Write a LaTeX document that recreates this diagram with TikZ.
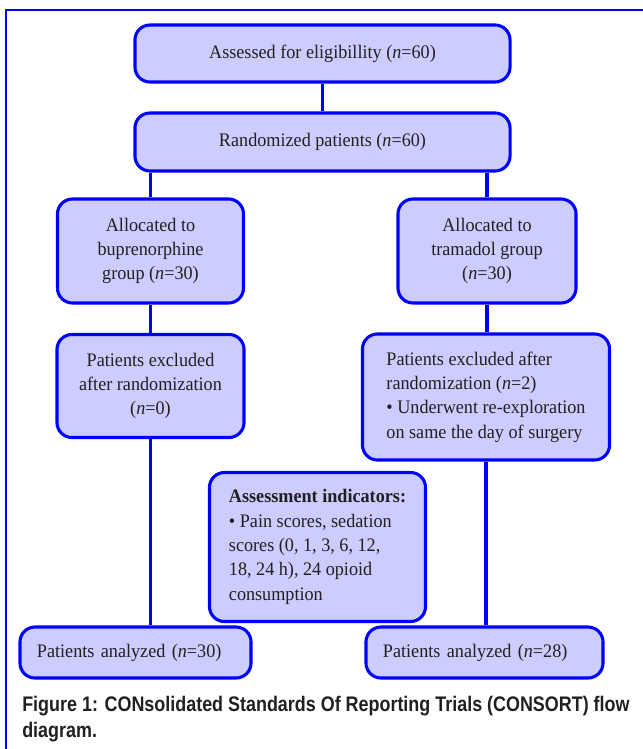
\documentclass[tikz,border=0pt]{standalone}
\usepackage{fontspec}
\setmainfont[FakeStretch=0.95]{Liberation Serif}
\newfontfamily\capfont[FakeStretch=0.85]{Liberation Sans}
\usepackage{tikz}
\usetikzlibrary{positioning, calc}
\definecolor{consort-blue}{HTML}{0000FF}
\definecolor{consort-fill}{HTML}{CCCCFF}
\definecolor{txt-grey}{HTML}{231F20}

\begin{document}
\begin{tikzpicture}[x=0.025cm, y=-0.025cm,
        box/.style={rectangle, rounded corners=0.375cm, draw=consort-blue,
                    fill=consort-fill, line width=2.2pt, inner sep=0pt,
                    align=center, text=txt-grey,
                    font=\fontsize{13.6}{17.3}\selectfont},
        link/.style={consort-blue, line width=2.2pt}]
        \useasboundingbox (0,0) rectangle (643,749);
        \draw[consort-blue, line width=1.2pt] (6,749) -- (6,10) -- (643,10);
        \node[box, minimum width=9.375cm, minimum height=1.425cm]
              (assess) at (322.5, 53.5) {Assessed for eligibillity (\textit{n}=60)};
        \node[box, minimum width=9.375cm, minimum height=1.45cm]
              (random) at (322.5, 142) {Randomized patients (\textit{n}=60)};
        \node[box, minimum width=4.65cm, minimum height=2.6cm]
              (bup) at (150.5, 251) {Allocated to\\buprenorphine\\group (\textit{n}=30)};
        \node[box, minimum width=4.45cm, minimum height=2.6cm]
              (tram) at (487, 251) {Allocated to\\tramadol group\\(\textit{n}=30)};
        \node[box, minimum width=4.675cm, minimum height=2.575cm]
              (bupex) at (150.5, 386) {Patients excluded\\after randomization\\(\textit{n}=0)};
        \node[box, minimum width=6.175cm, minimum height=3.15cm, align=left]
              (tramex) at (486, 397)
              {Patients excluded after\\randomization (\textit{n}=2)\\
               \textbullet{} Underwent re-exploration\\on same the day of surgery};
        \node[box, minimum width=5.4cm, minimum height=3.725cm, align=left]
              (indic) at (317.5, 547)
              {\textbf{Assessment indicators:}\\\textbullet{} Pain scores, sedation\\
               scores (0, 1, 3, 6, 12,\\18, 24 h), 24 opioid\\consumption};
        \node[box, minimum width=5.775cm, minimum height=1.275cm,
              text width=4.925cm, align=left]
              (anaB) at (135.5, 652.5) {Patients analyzed (\textit{n}=30)};
        \node[box, minimum width=5.925cm, minimum height=1.275cm,
              text width=5.075cm, align=left]
              (anaT) at (484.5, 652.5) {Patients analyzed (\textit{n}=28)};
        \node[anchor=base west, align=left, inner sep=0pt, text=txt-grey,
              font=\capfont\bfseries\fontsize{15}{17.8}\selectfont]
              (caption) at (22, 737)
              {Figure 1: CONsolidated Standards Of Reporting Trials (CONSORT) flow\\diagram.};
        \draw[link] (assess) -- (random);
        \draw[link] (random.south -| bup) -- (bup);
        \draw[link] (random.south -| tram) -- (tram);
        \draw[link] (bup) -- (bupex);
        \draw[link] (tram.south) -- (tram.south |- tramex.north);
        \draw[link] (bupex) -- (bupex |- anaB.north);
        \draw[link] (tramex) -- (tramex |- anaT.north);
      \end{tikzpicture}
\end{document}
